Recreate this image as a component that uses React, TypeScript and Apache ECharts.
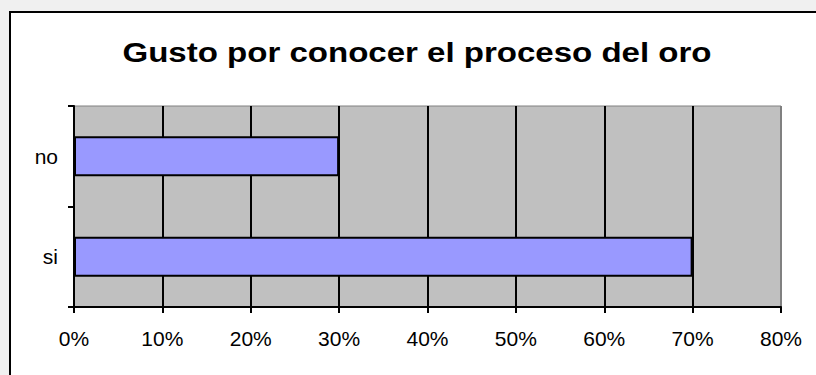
import React, { useEffect, useRef } from "react";
import * as echarts from "echarts";

const TITLE = "Gusto por conocer el proceso del oro";
const categories = ["si", "no"];
const values = [70, 30];
const xTicks = [0, 10, 20, 30, 40, 50, 60, 70, 80];

export default function App() {
  const ref = useRef<HTMLDivElement>(null);
  useEffect(() => {
    document.body.style.margin = "0";
    document.body.style.overflow = "hidden";
    document.documentElement.style.overflow = "hidden";
    const chart = echarts.init(ref.current!, null, { renderer: "svg" });
    const font = "'Liberation Sans', Arial, sans-serif";
    chart.setOption({
      animation: false,
      backgroundColor: "#f0f0f0",
      graphic: [
        {
          type: "rect",
          shape: { x: 10, y: 12, width: 806, height: 363 },
          style: { fill: "#ffffff" },
          z: -10,
        },
        {
          type: "line",
          shape: { x1: 10, y1: 11, x2: 10, y2: 375 },
          style: { stroke: "#000000", lineWidth: 2 },
          z: -9,
        },
        {
          type: "line",
          shape: { x1: 9, y1: 12, x2: 816, y2: 12 },
          style: { stroke: "#000000", lineWidth: 2 },
          z: -9,
        },
        {
          type: "text",
          x: 417,
          y: 52,
          scaleX: 1.18,
          style: {
            text: TITLE,
            fontFamily: font,
            fontWeight: "bold",
            fontSize: 28,
            fill: "#000000",
            align: "center",
            verticalAlign: "middle",
          },
        },
      ],
      grid: {
        left: 74,
        top: 106,
        width: 707,
        height: 201,
        show: true,
        backgroundColor: "#C0C0C0",
        borderColor: "#808080",
        borderWidth: 1,
        containLabel: false,
      },
      xAxis: {
        type: "value",
        min: xTicks[0],
        max: xTicks[xTicks.length - 1],
        interval: 10,
        axisLine: { show: true, lineStyle: { color: "#000000", width: 2 } },
        axisTick: { show: true, length: 6, lineStyle: { color: "#000000", width: 2 } },
        axisLabel: {
          formatter: (v: number) => `${v}%`,
          fontFamily: font,
          fontSize: 21,
          color: "#000000",
          margin: 21,
        },
        splitLine: {
          show: true,
          lineStyle: {
            color: ["#000000", "#000000", "#000000", "#000000", "#000000", "#000000", "#000000", "#000000", "#808080"],
            width: 2,
          },
        },
      },
      yAxis: {
        type: "category",
        data: categories,
        axisLine: { show: true, lineStyle: { color: "#000000", width: 2 } },
        axisTick: { show: true, length: 6, alignWithLabel: false, lineStyle: { color: "#000000", width: 2 } },
        axisLabel: {
          fontFamily: font,
          fontSize: 21,
          color: "#000000",
          margin: 16,
        },
        splitLine: { show: false },
      },
      series: [
        {
          type: "bar",
          data: values,
          barWidth: "40%",
          itemStyle: { color: "#9999FF", borderColor: "#000000", borderWidth: 2 },
        },
      ],
    });
    return () => chart.dispose();
  }, []);
  return <div ref={ref} style={{ width: 816, height: 375 }} />;
}
